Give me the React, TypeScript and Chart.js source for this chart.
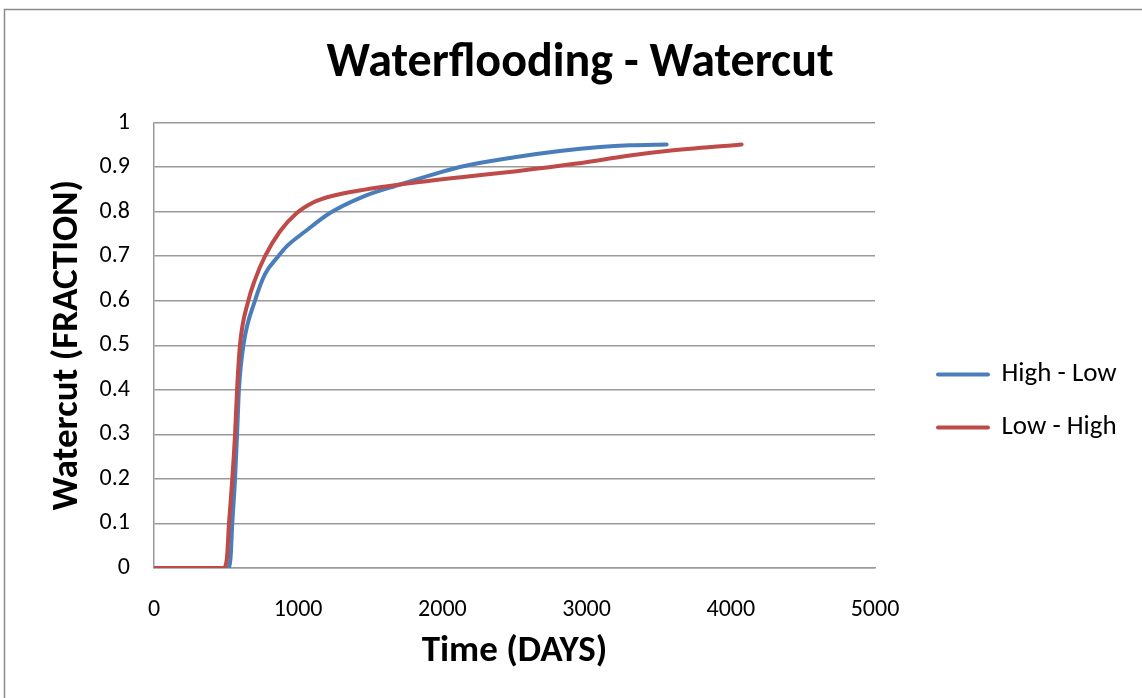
import React, { useEffect, useRef } from "react";
import { Chart, registerables } from "chart.js";

Chart.register(...registerables);

// ---- data ----
const seriesNames = ["High - Low", "Low - High"];

const highLowDays = [0, 512, 530, 543, 562, 576, 589, 620, 700, 770, 862, 920, 1050, 1220, 1451, 1706, 1950, 2145, 2500, 2815, 3093, 3300, 3555];
const highLowWatercut = [0, 0, 0.02, 0.1, 0.2, 0.3, 0.4, 0.5, 0.6, 0.66, 0.7, 0.722, 0.756, 0.797, 0.834, 0.861, 0.885, 0.902, 0.922, 0.936, 0.945, 0.949, 0.951];

const lowHighDays = [0, 481, 505, 520, 543, 562, 576, 596, 654, 700, 770, 874, 990, 1100, 1220, 1451, 1706, 2145, 2515, 2931, 3300, 3555, 4075];
const lowHighWatercut = [0, 0, 0.02, 0.1, 0.2, 0.3, 0.4, 0.5, 0.6, 0.647, 0.7, 0.756, 0.797, 0.82, 0.834, 0.849, 0.861, 0.878, 0.891, 0.908, 0.926, 0.936, 0.951];

const xTickValues = [0, 1000, 2000, 3000, 4000, 5000];
const yTickValues = [0, 0.1, 0.2, 0.3, 0.4, 0.5, 0.6, 0.7, 0.8, 0.9, 1];

const chartTitle = "Waterflooding - Watercut";
const xAxisTitle = "Time (DAYS)";
const yAxisTitle = "Watercut (FRACTION)";

const BLUE = "#4A7EBB";
const RED = "#BE4B48";
const GRID = "#9a9a9a";
const FONT = "Carlito, Lato, 'Open Sans', sans-serif";

const W = 1142;
const H = 698;

const LEGEND_WIDTH = W - 875;
const LEGEND_LEFT = 912;
const LEGEND_TOP = 335;

const frameBorder = {
  id: "frameBorder",
  beforeDraw(chart: any) {
    const ctx = chart.ctx;
    ctx.save();
    ctx.fillStyle = "#ffffff";
    ctx.fillRect(0, 0, chart.width, chart.height);
    ctx.strokeStyle = "#8a8a8a";
    ctx.lineWidth = 1.5;
    ctx.strokeRect(4.5, 9.5, 1400, 1400);
    ctx.restore();
  },
};

const legendPlacement = {
  id: "legendPlacement",
  beforeLayout(chart: any) {
    const lg: any = chart.legend;
    if (lg && !lg.__patched) {
      const origFit = lg.fit.bind(lg);
      lg.fit = function () {
        origFit();
        this.width = LEGEND_WIDTH;
      };
      lg.__patched = true;
    }
  },
  afterLayout(chart: any) {
    const lg: any = chart.legend;
    if (!lg) return;
    const h = lg.height;
    lg.left = LEGEND_LEFT;
    lg.right = W;
    lg.top = LEGEND_TOP;
    lg.bottom = LEGEND_TOP + h;
  },
};

const toPoints = (xs: number[], ys: number[]) => xs.map((x, i) => ({ x, y: ys[i] }));

export default function App() {
  const canvasRef = useRef<HTMLCanvasElement | null>(null);

  useEffect(() => {
    document.body.style.margin = "0";
    const canvas = canvasRef.current;
    if (!canvas) return;

    const chart = new Chart(canvas, {
      type: "line",
      data: {
        datasets: [
          {
            label: seriesNames[0],
            data: toPoints(highLowDays, highLowWatercut),
            borderColor: BLUE,
            backgroundColor: BLUE,
            borderWidth: 4,
            pointRadius: 0,
            cubicInterpolationMode: "monotone",
            borderCapStyle: "round",
            borderJoinStyle: "round",
            order: 1,
          },
          {
            label: seriesNames[1],
            data: toPoints(lowHighDays, lowHighWatercut),
            borderColor: RED,
            backgroundColor: RED,
            borderWidth: 4,
            pointRadius: 0,
            cubicInterpolationMode: "monotone",
            borderCapStyle: "round",
            borderJoinStyle: "round",
            order: 0,
          },
        ],
      },
      options: {
        responsive: false,
        animation: false,
        devicePixelRatio: 1,
        layout: { padding: { left: 18, right: 0, top: 0, bottom: 0 } },
        plugins: {
          title: {
            display: true,
            text: chartTitle,
            color: "#000",
            font: { family: FONT, size: 48, weight: "bold" },
            padding: { top: 35, bottom: 30 },
          },
          legend: {
            display: true,
            position: "right",
            align: "start",
            labels: {
              boxWidth: 50,
              boxHeight: 0,
              padding: 26,
              color: "#000",
              font: { family: FONT, size: 27 },
              sort: (a: any, b: any) => a.datasetIndex - b.datasetIndex,
            },
          },
          tooltip: { enabled: false },
        },
        scales: {
          x: {
            type: "linear",
            min: 0,
            max: 5000,
            afterBuildTicks: (scale: any) => {
              scale.ticks = xTickValues.map((v) => ({ value: v }));
            },
            afterFit: (scale: any) => {
              scale.height = H - 568;
            },
            grid: { display: false },
            border: { display: true, color: GRID, width: 1.5 },
            ticks: {
              padding: 20,
              color: "#000",
              maxRotation: 0,
              font: { family: FONT, size: 24 },
              callback: (v: any) => String(v),
            },
            title: {
              display: true,
              text: xAxisTitle,
              color: "#000",
              font: { family: FONT, size: 37, weight: "bold" },
              padding: { top: 0, bottom: 24 },
            },
          },
          y: {
            type: "linear",
            min: 0,
            max: 1,
            afterBuildTicks: (scale: any) => {
              scale.ticks = yTickValues.map((v) => ({ value: v }));
            },
            afterFit: (scale: any) => {
              scale.width = 154 - 18;
            },
            grid: { display: true, color: GRID, lineWidth: 1.5, drawTicks: false },
            border: { display: true, color: GRID, width: 1.5 },
            ticks: {
              padding: 24,
              color: "#000",
              font: { family: FONT, size: 24 },
              callback: (v: any) => {
                const s = Number(v).toFixed(1);
                return s.endsWith(".0") ? s.slice(0, -2) : s;
              },
            },
            title: {
              display: true,
              text: yAxisTitle,
              color: "#000",
              font: { family: FONT, size: 37, weight: "bold" },
              padding: { top: 28, bottom: 0 },
            },
          },
        },
      },
      plugins: [frameBorder, legendPlacement],
    } as any);

    return () => chart.destroy();
  }, []);

  return <canvas ref={canvasRef} width={W} height={H} style={{ display: "block", width: W, height: H }} />;
}
